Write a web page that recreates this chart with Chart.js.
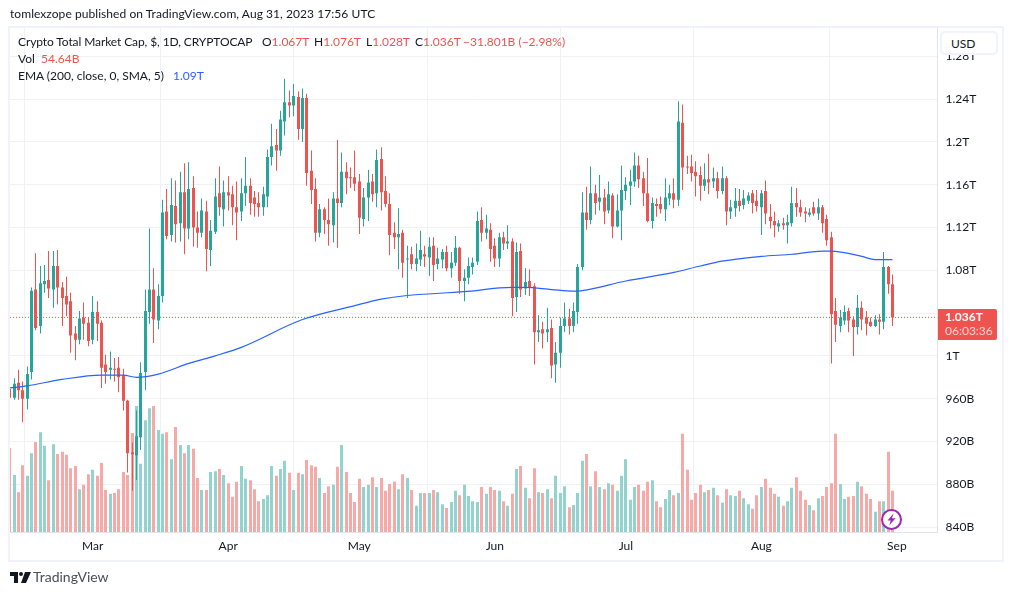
<!DOCTYPE html>
<html>
<head>
<meta charset="utf-8">
<script src="https://cdn.jsdelivr.net/npm/chart.js@4"></script>
<style>
  html, body { margin: 0; padding: 0; background: #fff; }
  body { width: 1013px; height: 595px; position: relative; overflow: hidden; font: 12px Lato, "Noto Sans", sans-serif; color: #131722; }
  canvas { position: absolute; left: 0; top: 0; }
  .t { position: absolute; white-space: nowrap; line-height: 16px; }
  .r { color: #ef5350; }
  .b { color: #2962ff; }
  #frame { position: absolute; left: 8px; top: 26px; width: 992px; height: 532px; border: 2px solid #f0f3fa; }
  #usd { position: absolute; left: 940px; top: 31px; width: 58px; height: 24px; box-sizing: border-box; border: 2px solid #f0f3fa; border-radius: 5px; background: #fff; padding: 3px 0 0 9px; line-height: 16px; }
  #tag { position: absolute; left: 938px; top: 309px; width: 59px; height: 31px; background: #ef5350; color: #fff; border-radius: 0 2px 2px 0; }
  #tag div { position: absolute; left: 7px; line-height: 14px; white-space: nowrap; }
</style>
</head>
<body>
<canvas id="chart" width="1013" height="595"></canvas>
<div id="frame"></div>
<div class="t" style="left:10px;top:6px;letter-spacing:.06px">tomlexzope published on TradingView.com, Aug 31, 2023 17:56 UTC</div>
<div class="t" style="left:18px;top:34px;letter-spacing:-.1px">Crypto Total Market Cap, $, 1D, CRYPTOCAP</div>
<div class="t" style="left:262px;top:34px">O<span class="r">1.067T</span></div>
<div class="t" style="left:314px;top:34px">H<span class="r">1.076T</span></div>
<div class="t" style="left:366px;top:34px">L<span class="r">1.028T</span></div>
<div class="t" style="left:415px;top:34px">C<span class="r">1.036T</span></div>
<div class="t r" style="left:463px;top:34px">−31.801B (−2.98%)</div>
<div class="t" style="left:18px;top:51px">Vol</div>
<div class="t r" style="left:41px;top:51px">54.64B</div>
<div class="t" style="left:18px;top:68px">EMA (200, close, 0, SMA, 5)</div>
<div class="t b" style="left:173px;top:68px">1.09T</div>
<div id="usd">USD</div>
<div id="tag"><div style="top:1px;font-weight:700">1.036T</div><div style="top:15px;opacity:.75">06:03:36</div></div>
<svg style="position:absolute;left:880px;top:508px" width="23" height="23" viewBox="0 0 23 23">
  <circle cx="11.5" cy="11.5" r="9.5" fill="#fff" stroke="#9c27b0" stroke-width="2"/>
  <path d="M13.5 5.5 L7.5 12.5 H10.8 L9.2 17.5 L15.5 10.3 H12 Z" fill="#9c27b0"/>
</svg>
<svg style="position:absolute;left:10px;top:572px" width="21" height="11" viewBox="0 0 21 11">
  <path d="M0 0H8V11H4V4H0Z M15 0H21L16 11H11Z" fill="#131722"/><circle cx="11" cy="2" r="2" fill="#131722"/>
</svg>
<div class="t" style="left:33px;top:569px;font-size:14px;color:#4a4e59">TradingView</div>

<script>
// Crypto total market cap, daily candles in billions USD, Feb 10 to Aug 31 2023
const opens = [
  969,961,975,968,960,985,1062,1028,1067,1071,
  1062,1084,1064,1056,1051,1021,1015,1036,1031,1015,
  1041,1031,992,987,988,989,982,958,910,907,
  924,985,1041,1062,1033,1056,1135,1113,1140,1124,
  1153,1119,1157,1120,1115,1135,1099,1116,1152,1137,
  1153,1151,1139,1135,1152,1159,1148,1143,1139,1149,
  1186,1197,1192,1219,1237,1234,1242,1212,1241,1173,
  1156,1115,1137,1127,1122,1147,1143,1172,1167,1167,
  1163,1128,1148,1163,1152,1184,1154,1142,1115,1111,
  1115,1090,1095,1086,1090,1095,1092,1103,1086,1090,
  1097,1082,1087,1101,1070,1073,1083,1088,1127,1115,
  1118,1103,1091,1111,1105,1107,1055,1098,1063,1070,
  1065,1022,1025,1022,1026,992,1003,1028,1035,1028,
  1041,1083,1134,1127,1152,1144,1148,1136,1150,1121,
  1136,1154,1159,1163,1178,1166,1152,1126,1142,1142,
  1137,1147,1152,1146,1218,1177,1177,1172,1169,1159,
  1165,1163,1166,1154,1166,1135,1138,1145,1141,1145,
  1152,1145,1139,1154,1130,1126,1121,1124,1122,1124,
  1143,1139,1135,1132,1139,1133,1139,1128,1111,1042,
  1028,1033,1042,1034,1027,1045,1036,1032,1028,1034,
  1032,1083,1067
];
const highs = [
  971,979,987,976,990,1064,1096,1084,1085,1098,
  1098,1099,1069,1074,1059,1028,1042,1050,1036,1056,
  1051,1033,1001,1004,998,999,988,959,919,949,
  994,1062,1119,1082,1067,1146,1156,1166,1164,1172,
  1180,1181,1168,1135,1147,1145,1127,1166,1177,1164,
  1168,1159,1163,1166,1186,1166,1154,1153,1158,1193,
  1217,1212,1229,1259,1248,1254,1247,1250,1245,1192,
  1166,1142,1139,1147,1153,1202,1190,1181,1176,1192,
  1170,1157,1174,1170,1193,1195,1168,1152,1125,1138,
  1118,1103,1102,1105,1117,1103,1111,1111,1101,1100,
  1103,1097,1112,1102,1081,1092,1092,1135,1139,1132,
  1124,1110,1115,1116,1122,1110,1106,1105,1082,1081,
  1068,1038,1032,1045,1034,1013,1036,1050,1044,1050,
  1086,1153,1158,1177,1160,1169,1156,1163,1152,1151,
  1178,1167,1174,1190,1187,1172,1185,1148,1147,1149,
  1166,1160,1166,1238,1235,1187,1188,1182,1177,1180,
  1189,1176,1172,1177,1168,1146,1157,1156,1155,1153,
  1155,1155,1155,1164,1142,1135,1127,1129,1132,1158,
  1157,1146,1139,1138,1144,1147,1141,1132,1116,1054,
  1043,1047,1045,1037,1057,1051,1042,1036,1038,1039,
  1097,1084,1076
];
const lows = [
  960,959,959,938,950,978,1024,1021,1059,1054,
  1045,1048,1028,1037,1003,996,1011,1015,1009,1011,
  1014,970,974,978,976,966,949,891,874,884,
  912,968,1030,1012,1025,1050,1109,1107,1106,1107,
  1095,1109,1102,1101,1111,1079,1084,1114,1131,1121,
  1136,1122,1108,1126,1140,1132,1130,1130,1131,1139,
  1178,1173,1187,1206,1223,1224,1202,1200,1159,1142,
  1107,1111,1114,1103,1106,1101,1139,1151,1157,1154,
  1114,1121,1126,1144,1139,1136,1139,1094,1100,1081,
  1073,1054,1081,1079,1084,1083,1075,1070,1081,1082,
  1079,1073,1084,1058,1051,1067,1076,1085,1107,1109,
  1088,1083,1083,1099,1100,1037,1041,1055,1057,1056,
  992,1013,1007,1013,979,975,989,1022,1020,1022,
  1030,1080,1118,1123,1132,1136,1123,1133,1110,1120,
  1108,1146,1141,1158,1157,1140,1125,1119,1130,1133,
  1126,1141,1138,1140,1155,1170,1163,1149,1145,1154,
  1151,1157,1147,1151,1122,1128,1130,1135,1137,1142,
  1133,1135,1113,1123,1119,1111,1116,1118,1105,1121,
  1130,1130,1125,1130,1131,1127,1115,1103,993,1013,
  1022,1029,1022,1000,1020,1024,1019,1027,1027,1020,
  1025,1058,1028
];
const closes = [
  961,974,968,960,983,1061,1026,1068,1070,1063,
  1084,1064,1054,1048,1019,1015,1035,1030,1014,1041,
  1030,989,985,989,987,980,958,909,908,925,
  984,1042,1062,1034,1056,1134,1112,1141,1123,1153,
  1119,1156,1120,1115,1136,1100,1117,1149,1139,1153,
  1150,1139,1134,1152,1159,1143,1142,1139,1151,1186,
  1196,1192,1221,1237,1234,1243,1212,1241,1171,1155,
  1115,1137,1127,1123,1147,1143,1172,1166,1166,1161,
  1129,1148,1162,1151,1183,1153,1142,1113,1111,1114,
  1087,1091,1086,1091,1099,1093,1102,1085,1091,1097,
  1082,1087,1101,1070,1073,1084,1087,1126,1115,1119,
  1100,1091,1111,1105,1107,1054,1097,1062,1069,1064,
  1022,1024,1021,1025,991,1003,1028,1035,1028,1042,
  1083,1134,1127,1152,1143,1148,1135,1151,1121,1136,
  1155,1160,1163,1178,1165,1152,1126,1143,1140,1137,
  1148,1152,1146,1219,1176,1176,1171,1168,1159,1165,
  1162,1166,1154,1166,1135,1139,1145,1140,1147,1150,
  1143,1140,1152,1133,1126,1122,1124,1122,1125,1143,
  1139,1134,1133,1134,1133,1139,1124,1108,1039,1029,
  1036,1041,1033,1027,1045,1034,1030,1028,1034,1032,
  1083,1067,1036
];
const volumes = [
  112,76,53,89,75,105,120,133,115,69,
  117,104,107,103,85,88,57,63,77,83,
  75,92,56,51,52,57,80,76,132,168,
  91,149,165,168,136,131,133,97,140,116,
  105,116,111,72,56,56,80,81,84,76,
  65,47,67,88,71,69,57,41,44,49,
  88,75,84,95,79,56,79,77,96,89,
  87,72,52,61,63,87,116,80,52,40,
  71,60,63,73,60,72,55,64,67,57,
  77,72,56,35,52,52,52,56,53,37,
  32,40,55,49,63,48,41,40,60,51,
  60,56,55,41,35,51,84,88,59,45,
  85,53,52,57,45,75,52,61,33,36,
  52,95,104,61,81,60,57,65,63,55,
  75,97,43,60,63,55,67,69,41,33,
  44,56,49,52,131,83,43,52,63,53,
  56,59,49,39,57,49,48,55,45,37,
  31,49,60,71,59,51,47,35,41,59,
  73,55,43,36,29,45,48,60,65,131,
  64,44,47,48,67,61,51,44,27,41,
  41,107,55
];
// day numbers count from Mar 1 = 0
const firstDay = -19;
const monthDays = [0, 31, 61, 92, 122, 153, 184];
const monthLabels = ['Mar', 'Apr', 'May', 'Jun', 'Jul', 'Aug', 'Sep'];
const priceTicks = [840, 880, 920, 960, 1000, 1040, 1080, 1120, 1160, 1200, 1240, 1280];
const emaDays = [-19, -15, -7, 2, 7, 10, 15, 22, 28, 34, 48, 60, 66, 71, 85, 96, 99, 105, 110, 112, 122, 133, 139, 144, 153, 160, 167, 169, 176, 179, 183];
const emaValues = [970, 972, 978, 982, 982, 980, 983, 993, 1000, 1008, 1034, 1047, 1053, 1056, 1060, 1064, 1064, 1062, 1060.5, 1061, 1070, 1078, 1084, 1088.5, 1093, 1095, 1098, 1098, 1093, 1090, 1090];
const lastClose = closes[closes.length - 1];

const UP = '#26a69a', DOWN = '#ef5350';
const UP_VOL = '#92d3cd', DOWN_VOL = '#f7a9a7';
const GRID = '#f0f1f4', AXIS = '#e0e3eb';
const isUp = i => closes[i] >= opens[i];
const days = opens.map((_, i) => firstDay + i);

const xMin = -18.92, xMax = 193.3;

// bars are crisp in the original, so snap them to whole pixels
const snapBars = {
  id: 'snapBars',
  beforeDatasetsDraw(chart) {
    chart.data.datasets.forEach((ds, i) => {
      if (ds.type !== 'bar') return;
      chart.getDatasetMeta(i).data.forEach(el => { el.x = Math.round(el.x - 0.5) + 0.5; });
    });
  }
};

new Chart(document.getElementById('chart'), {
  data: {
    datasets: [
      {
        type: 'line', order: 0, yAxisID: 'y', pointRadius: 0, borderWidth: 1.2, borderColor: '#2962ff',
        cubicInterpolationMode: 'monotone',
        data: emaDays.map((d, i) => ({ x: d, y: emaValues[i] }))
      },
      {
        type: 'bar', order: 1, yAxisID: 'y', barThickness: 3, grouped: false, inflateAmount: 0,
        backgroundColor: days.map((_, i) => isUp(i) ? UP : DOWN),
        data: days.map((d, i) => ({ x: d, y: [Math.min(opens[i], closes[i]), Math.max(opens[i], closes[i])] }))
      },
      {
        type: 'bar', order: 2, yAxisID: 'y', barThickness: 1, grouped: false, inflateAmount: 0,
        backgroundColor: days.map((_, i) => isUp(i) ? UP : DOWN),
        data: days.map((d, i) => ({ x: d, y: [lows[i], highs[i]] }))
      },
      {
        type: 'line', order: 3, yAxisID: 'y', pointRadius: 0, borderWidth: 1, borderColor: DOWN, borderDash: [1, 2],
        data: [{ x: xMin, y: lastClose }, { x: xMax, y: lastClose }]
      },
      {
        type: 'bar', order: 4, yAxisID: 'vol', barThickness: 3, grouped: false, inflateAmount: 0,
        backgroundColor: days.map((_, i) => isUp(i) ? UP_VOL : DOWN_VOL),
        data: days.map((d, i) => ({ x: d, y: volumes[i] }))
      }
    ]
  },
  options: {
    responsive: false,
    animation: false,
    layout: { padding: { left: 10, top: 28, right: 11, bottom: 35 } },
    plugins: { legend: { display: false }, tooltip: { enabled: false } },
    scales: {
      x: {
        type: 'linear', min: xMin, max: xMax, offset: false,
        afterBuildTicks: scale => { scale.ticks = monthDays.map(v => ({ value: v })); },
        afterFit: scale => { scale.height = 27.5; },
        grid: { color: GRID, drawTicks: false },
        border: { color: AXIS, width: 1 },
        ticks: {
          autoSkip: false, maxRotation: 0, padding: 6, color: '#131722',
          font: { family: 'Lato, "Noto Sans", sans-serif', size: 12 },
          callback: v => monthLabels[monthDays.indexOf(v)]
        }
      },
      y: {
        position: 'right', min: 834.95, max: 1306.45,
        afterBuildTicks: scale => { scale.ticks = priceTicks.map(v => ({ value: v })); },
        afterFit: scale => { scale.width = 64.5; },
        grid: { color: GRID, drawTicks: false },
        border: { color: AXIS, width: 1 },
        ticks: {
          padding: 8, color: '#131722',
          font: { family: 'Lato, "Noto Sans", sans-serif', size: 12 },
          callback: v => v >= 1000 ? (v / 1000) + 'T' : v + 'B'
        }
      },
      vol: {
        display: false, min: -0.7, max: 672
      }
    }
  },
  plugins: [snapBars]
});
</script>
</body>
</html>
